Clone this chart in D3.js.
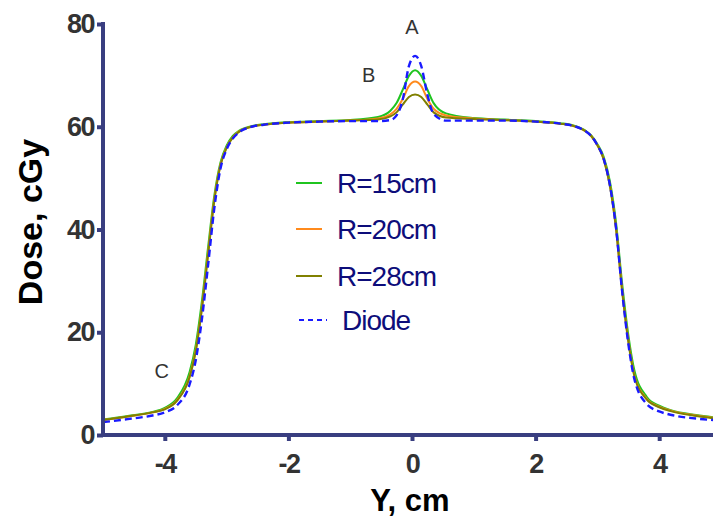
<!DOCTYPE html>
<html>
<head>
<meta charset="utf-8">
<script src="https://cdn.jsdelivr.net/npm/d3@7"></script>
<style>
  body { margin: 0; background: #fff; }
  svg { display: block; font-family: "Liberation Sans", Arial, sans-serif; }
</style>
</head>
<body>
<svg id="chart" width="713" height="521"></svg>
<script>
// Y position, cm
const yPos = [-5.0, -4.6, -4.2, -4.0, -3.8, -3.6, -3.5, -3.4, -3.3, -3.2, -3.1, -3.0, -2.9, -2.8, -2.6, -2.4, -2.0, -1.5, -1.0,
  -0.55, -0.35, -0.25, -0.15, -0.05, 0.05, 0.15, 0.25, 0.35, 0.55,
  1.0, 1.5, 2.0, 2.4, 2.6, 2.8, 2.9, 3.0, 3.1, 3.2, 3.3, 3.4, 3.5, 3.6, 3.8, 4.0, 4.2, 4.6, 5.0];

// dose, cGy
const doseR15 = [3.0, 3.7, 4.5, 5.3, 7.2, 12.2, 17.5, 26.0, 36.5, 46.5, 53.0, 56.3, 58.2, 59.2, 60.1, 60.5, 60.9, 61.1, 61.3,
  61.9, 63.1, 64.6, 67.2, 69.9, 71.0, 69.9, 67.2, 64.6, 62.6,
  61.7, 61.4, 61.1, 60.7, 60.3, 59.3, 58.3, 56.6, 54.2, 49.5, 41.5, 29.5, 19.5, 12.5, 7.4, 5.7, 4.8, 3.9, 3.3];
const doseR20 = [2.9, 3.6, 4.4, 5.1, 6.8, 11.4, 16.5, 24.8, 35.5, 45.8, 52.6, 56.0, 58.0, 59.1, 60.0, 60.4, 60.8, 61.0, 61.2,
  61.6, 62.4, 63.5, 65.4, 67.9, 68.8, 67.9, 65.4, 63.5, 62.2,
  61.6, 61.3, 61.0, 60.6, 60.2, 59.2, 58.2, 56.4, 53.8, 48.8, 40.5, 28.3, 18.5, 11.6, 7.0, 5.5, 4.7, 3.8, 3.2];
const doseR28 = [2.9, 3.6, 4.4, 5.0, 6.7, 11.2, 16.2, 24.5, 35.0, 45.5, 52.4, 55.9, 57.9, 59.0, 60.0, 60.4, 60.8, 61.0, 61.2,
  61.4, 62.0, 62.8, 64.3, 65.8, 66.3, 65.8, 64.3, 62.8, 61.8,
  61.5, 61.3, 61.0, 60.6, 60.2, 59.2, 58.2, 56.4, 53.7, 48.6, 40.2, 28.0, 18.2, 11.4, 6.9, 5.4, 4.6, 3.7, 3.1];
const doseDiode = [2.5, 3.1, 3.8, 4.4, 5.8, 9.8, 14.5, 22.5, 33.0, 44.0, 51.8, 55.6, 57.7, 58.9, 60.0, 60.4, 60.8, 61.0, 61.1,
  61.1, 61.3, 62.2, 65.3, 71.8, 73.8, 71.8, 66.2, 62.5, 61.2,
  61.2, 61.2, 61.0, 60.6, 60.2, 59.2, 58.2, 56.4, 53.8, 48.8, 40.5, 28.0, 17.8, 10.8, 6.0, 4.6, 3.9, 3.2, 2.8];

const seriesNames = ["R=15cm", "R=20cm", "R=28cm", "Diode"];
const seriesColors = ["#1fc41f", "#ff8a1c", "#808000", "#1a1aff"];
const seriesDoses = [doseR15, doseR20, doseR28, doseDiode];

const xTicks = [-4, -2, 0, 2, 4];
const yTicks = [0, 20, 40, 60, 80];

// annotations
const noteLabels = ["A", "B", "C"];
const noteX = [0, -0.7, -4.05];
const noteY = [79.5, 70, 12.5];

const svg = d3.select("#chart");
const axisColor = "#393e80";

const x = d3.scaleLinear().domain([-5, 5]).range([103, 721]);
const y = d3.scaleLinear().domain([0, 80]).range([435, 24]);

svg.append("defs").append("clipPath").attr("id", "plot")
  .append("rect").attr("x", 103).attr("y", 0).attr("width", 610).attr("height", 436);

const line = d3.line()
  .x((d, i) => x(yPos[i]))
  .y(d => y(d))
  .curve(d3.curveMonotoneX);

const g = svg.append("g").attr("clip-path", "url(#plot)");
seriesDoses.forEach((s, k) => {
  g.append("path")
    .attr("d", line(s))
    .attr("fill", "none")
    .attr("stroke", seriesColors[k])
    .attr("stroke-width", k === 3 ? 2.4 : 2)
    .attr("stroke-dasharray", k === 3 ? "7,4" : null);
});

// axes (plain hyphen minus like the original)
const fmt = d => String(d);
const xAxis = svg.append("g")
  .attr("transform", "translate(0,435)")
  .call(d3.axisBottom(x).tickValues(xTicks).tickSize(6).tickPadding(13).tickFormat(fmt));
const yAxis = svg.append("g")
  .attr("transform", "translate(103,0)")
  .call(d3.axisLeft(y).tickValues(yTicks).tickSize(6).tickPadding(3).tickFormat(fmt));

[xAxis, yAxis].forEach(a => {
  a.select(".domain").remove();
  a.selectAll(".tick line").attr("stroke", axisColor).attr("stroke-width", 4);
  a.selectAll(".tick text")
    .attr("fill", "#333")
    .style("font-size", "27px")
    .style("font-weight", "bold")
    .style("letter-spacing", "-1.5px");
});
xAxis.selectAll(".tick text").attr("dy", "0.71em");

svg.append("line").attr("x1", 103).attr("x2", 713).attr("y1", 435).attr("y2", 435)
  .attr("stroke", axisColor).attr("stroke-width", 4);
svg.append("line").attr("x1", 103).attr("x2", 103).attr("y1", 22).attr("y2", 437)
  .attr("stroke", axisColor).attr("stroke-width", 4);

// axis titles
svg.append("text")
  .attr("x", 410).attr("y", 511)
  .attr("text-anchor", "middle")
  .style("font-size", "31px").style("font-weight", "bold")
  .text("Y, cm");
svg.append("text")
  .attr("transform", "translate(42,222) rotate(-90)")
  .attr("text-anchor", "middle")
  .style("font-size", "34px").style("font-weight", "bold")
  .text("Dose, cGy");

// annotations
noteLabels.forEach((t, i) => {
  svg.append("text")
    .attr("x", x(noteX[i])).attr("y", y(noteY[i]))
    .attr("text-anchor", "middle").attr("dy", "0.35em")
    .attr("fill", "#333")
    .style("font-size", "20px")
    .text(t);
});

// legend
const legY = [183, 229, 276, 320];
seriesNames.forEach((name, k) => {
  const row = svg.append("g").attr("transform", `translate(0,${legY[k]})`);
  row.append("line")
    .attr("x1", k === 3 ? 299 : 296).attr("x2", k === 3 ? 327 : 322)
    .attr("stroke", seriesColors[k])
    .attr("stroke-width", 2)
    .attr("stroke-dasharray", k === 3 ? "5,4" : null);
  row.append("text")
    .attr("x", k === 3 ? 342 : 337).attr("y", 0)
    .attr("dy", "0.36em")
    .attr("fill", "#0d0d7a")
    .style("font-size", "28px")
    .style("letter-spacing", "-1px")
    .text(name);
});
</script>
</body>
</html>
